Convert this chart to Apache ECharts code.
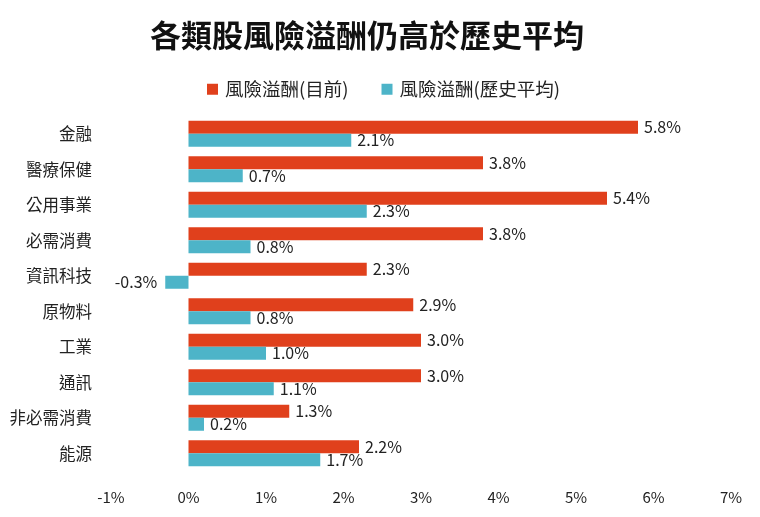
<!DOCTYPE html>
<html><head><meta charset="utf-8">
<script src="https://cdn.jsdelivr.net/npm/echarts@6/dist/echarts.min.js"></script>
<style>html,body{margin:0;padding:0;background:#fff}#c{width:760px;height:517px}</style>
</head><body><div id="c"></div>
<script>
const categories = ['金融','醫療保健','公用事業','必需消費','資訊科技','原物料','工業','通訊','非必需消費','能源'];
const currentPremium = [5.8, 3.8, 5.4, 3.8, 2.3, 2.9, 3.0, 3.0, 1.3, 2.2];
const historicalPremium = [2.1, 0.7, 2.3, 0.8, -0.3, 0.8, 1.0, 1.1, 0.2, 1.7];
const seriesNames = ['風險溢酬(目前)', '風險溢酬(歷史平均)'];
const titleText = '各類股風險溢酬仍高於歷史平均';

const FONT = '"Noto Sans CJK TC", "Noto Sans", sans-serif';
const chart = echarts.init(document.getElementById('c'));
const fmt = p => p.value.toFixed(1) + '%';
const labelStyle = {show: true, position: 'right', formatter: fmt, fontSize: 16, color: '#222', fontFamily: FONT, distance: 6};
function withLabels(arr) {
  return arr.map(v => v < 0 ? {value: v, label: {position: 'left', distance: 8}} : v);
}
chart.setOption({
  animation: false,
  title: {text: titleText, left: 145, top: 15,
    textStyle: {fontSize: 31, fontWeight: 'bold', color: '#111', fontFamily: FONT}},
  legend: {top: 75, left: 202, itemWidth: 11, itemHeight: 11, itemGap: 33,
    icon: 'rect', textStyle: {fontSize: 18.5, color: '#222', fontFamily: FONT, padding: [0, 0, 0, 2]},
    data: seriesNames},
  grid: {left: 111, right: 29, top: 116, bottom: 46, containLabel: false},
  xAxis: {type: 'value', min: -1, max: 7, interval: 1,
    axisLabel: {formatter: v => v + '%', fontSize: 15, color: '#222', fontFamily: FONT, margin: 19},
    axisLine: {show: false}, axisTick: {show: false}, splitLine: {show: false}},
  yAxis: {type: 'category', data: categories, inverse: true,
    axisLabel: {fontSize: 16.5, color: '#222', fontFamily: FONT, margin: 19},
    axisLine: {show: false}, axisTick: {show: false}},
  series: [
    {name: seriesNames[0], type: 'bar', data: currentPremium, barWidth: 13, barGap: '0%',
      itemStyle: {color: '#E0401C'}, label: labelStyle},
    {name: seriesNames[1], type: 'bar', data: withLabels(historicalPremium), barWidth: 13,
      itemStyle: {color: '#4DB4C8'}, label: labelStyle}
  ]
});
</script></body></html>
